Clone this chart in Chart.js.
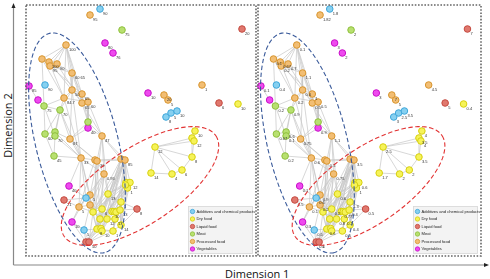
<!DOCTYPE html>
<html><head><meta charset="utf-8">
<script src="https://cdn.jsdelivr.net/npm/chart.js@4"></script>
<style>
html,body{margin:0;padding:0;width:490px;height:279px;overflow:hidden;background:#fff;position:relative}
canvas{position:absolute}
#c1{left:25px;top:4px}
#c2{left:257px;top:4px}
#deco{position:absolute;left:0;top:0}
.t{position:absolute;font-family:"Open Sans",sans-serif;font-size:11px;color:#111;white-space:nowrap;line-height:11px}
#xt{left:225px;top:268px}
#yt{left:-27px;top:120px;transform:rotate(-90deg);transform-origin:50% 50%;width:68px;text-align:center}
</style></head><body>
<svg id="deco" width="490" height="279">
<line x1="13.5" y1="265" x2="13.5" y2="6" stroke="#888" stroke-width="1.2"/>
<polygon points="13.5,3 11.5,8 15.5,8" fill="#222"/>
<line x1="13.5" y1="265" x2="485" y2="265" stroke="#888" stroke-width="1.2"/>
<polygon points="489,265 484,263 484,267" fill="#222"/>
</svg>
<div class="t" id="yt">Dimension 2</div>
<div class="t" id="xt">Dimension 1</div>
<canvas id="c1" width="232" height="253"></canvas>
<canvas id="c2" width="225" height="253"></canvas>
<script>
// ---- data ----
const categories = ["Additives and chemical products","Dry food","Liquid food","Meat","Processed food","Vegetables"];
const catCodes = ["A","D","L","M","P","V"];
const nodeCat = ["P","A","M","V","V","L","P","P","P","P","P","P","V","A","P","P","P","P","P","V",
 "M","M","M","V","M","M","M","P","P","M","P","P","P","P","P","P","V","A","P","L",
 "P","P","V","A","L","L","D","D","D","D","D","D","D","D","D","D","D","D","D","D",
 "D","D","D","D","D","D","L","P","V","P","P","L","D","A","A","A","D","D","D","D",
 "D","D","D","D"];
const nodeX = [90,100,122,105,113,242,66,42,49,50,57,72,29,45,72,82,64,82,88,38,
 44,60,88,88,45,55,55,70,102,54,81,95,97,121,125,104,69,86,90,64,
 79,90,72,84,86,89,126,130,127.5,125.5,108,121,93,102,112,114,116,120,100,107,
 115,97,101,102,113,121,137,202,148,164,168,219,238,166,171,177,195,192,194,155,
 192,182,172,151];
const nodeY = [15,9,30,43,53,29,45,59,62,66,64,73,86,85,90,94,98,103,102,100,
 106,110,122,128,134,132,136,139,136,156,158,160,161,159,160,174,186,198,195,200,
 207,205,222,230,242,242,182.5,182.5,188,185,194,202,212,209,211.5,211.5,212,210,219,219,
 219,229,228.5,231,231,225,209,85,93,95,100,103,104,117,113,111,131,138,141,147,
 157,170,174,173];
const labelsLeft = ["95","90","75","80","76","20","100","","100","95","90","60 65","85","90","50","65","84.7","65","60","",
 "75","70","","40","60","","70","67","47","45","33","","30","","85","0.95","40","","5","21",
 "5","","10","5","","50","","12","1","","13","1","","6","10","","","13","","12",
 "13","8","","10","1","14","8","1","10","20","5","6","10","8","5","10","10","","12","12",
 "8","6","4","14"];
const labelsRight = ["1.82","1.8","2","3","2","7","0.1","0.1","0.67","0.2","0.7","1.1","0.1","0.4","0.6","1","0.2","0.5","0.5","",
 "0.2","0.9","","0.9","0.07","0.6","0.1","0.75","1.1","0.2","0.6","","0.5","","3.5","0.75","0.1","0.6","0.9","0.5",
 "0.1","0.2","0.3","0.5","0.6","1","","0.6","1","","0.6","1.3","","0.2","0.77","","","0.4","","0.8",
 "0.2","0.6","","","0.5","0.4","0.5","4.5","3","7","5","5","0.4","3","2.5","3.5","4","3.5","4","2.5",
 "3.5","2","2","1.7"];
// edges: pairs of node numbers (1-based)
const edges = [
 [7,8],[7,9],[7,10],[7,11],[7,12],[7,15],[7,17],[7,16],[7,18],[8,9],[8,10],[8,11],[9,10],[9,11],[10,11],[8,17],[9,15],[10,12],[11,12],
 [10,16],[11,18],[12,15],[12,16],[12,18],[9,17],[15,16],[15,17],[15,18],[16,18],[16,19],[18,19],[17,19],[8,21],[13,20],[20,21],[21,22],
 [17,22],[17,21],[15,22],[16,23],[18,23],[19,23],[19,24],[22,25],[22,26],[22,27],[21,25],[21,27],[25,26],[26,27],[25,30],[27,30],[26,28],
 [22,28],[23,28],[24,28],[23,29],[19,29],[18,29],[24,29],[28,31],[28,32],[28,33],[31,32],[32,33],[29,33],[29,34],[29,35],[33,35],[32,34],
 [31,36],[33,36],[30,31],[27,31],[17,31],[15,31],[15,28],[31,37],[31,39],[31,38],[37,38],[38,39],[38,41],[38,42],[39,42],[40,41],[41,42],
 [40,38],[41,43],[43,44],[42,44],[44,45],[44,46],[43,45],[45,46],[33,39],[36,42],[36,39],[36,41],[31,41],[32,41],[22,31],[26,31],[43,38],
 [33,53],[33,59],[31,53],[32,62],[36,51],[36,53],[36,59],[36,62],[35,47],[35,48],[35,49],[35,51],[35,52],[35,53],[35,54],[35,58],[35,59],
 [35,60],[35,62],[35,63],[35,65],[34,47],[34,53],[34,62],[34,59],[34,55],[34,64],[29,51],[29,53],[29,36],[42,53],[42,59],[42,62],[41,53],
 [44,62],[45,62],[45,63],[46,64],[46,65],[46,62],[46,53],[45,59],[45,50],
 [47,48],[47,49],[47,50],[48,49],[49,50],[50,51],[47,51],[49,52],[51,52],[51,53],[51,54],[51,55],[52,55],[52,58],[52,61],[53,54],[53,59],
 [53,62],[54,55],[54,59],[54,60],[55,56],[56,57],[57,58],[55,60],[56,61],[58,61],[59,60],[60,61],[59,62],[60,63],[60,64],[61,65],[61,66],
 [62,63],[63,64],[64,65],[65,66],[58,66],[52,66],[47,53],[48,53],[49,59],[50,62],[47,62],[48,62],[49,64],[50,65],[49,66],[48,66],[52,67],
 [58,67],[66,67],[47,55],[48,58],[62,65],[53,60],
 [80,78],[80,79],[80,81],[80,82],[80,83],[80,84],[84,83],[83,82],[82,81],[81,79],[79,78],[78,77],[81,78]
];
// ellipses [cx, cy, semi-major, semi-minor, angle deg]
const blueEllipse = [77,143,113,41,75.9];
const redEllipse = [140,186,91,38,-33.5];

const fills = {A:"#86d0f0",D:"#f6f358",L:"#e0786e",M:"#b8e070",P:"#f2be74",V:"#ee4aee"};
const strokes = {A:"#3ea6da",D:"#d6cf10",L:"#c44a40",M:"#8ebf3c",P:"#d8952e",V:"#c810c8"};

function buildDatasets(){
  const edgeData = [];
  edges.forEach(([a,b])=>{
    edgeData.push({x:nodeX[a-1],y:nodeY[a-1]});
    edgeData.push({x:nodeX[b-1],y:nodeY[b-1]});
    edgeData.push({x:nodeX[b-1],y:NaN});
  });
  const ds = [{data:edgeData,showLine:true,spanGaps:false,pointRadius:0,borderColor:"#c6c6c6",borderWidth:0.7,order:10}];
  catCodes.forEach(c=>{
    const d=[];
    nodeCat.forEach((k,i)=>{ if(k===c) d.push({x:nodeX[i],y:nodeY[i]}); });
    ds.push({data:d,pointRadius:3.3,pointBackgroundColor:fills[c],pointBorderColor:strokes[c],pointBorderWidth:1,showLine:false,order:0});
  });
  return ds;
}

function ellipsePath(ctx,chart,e){
  const [cx,cy,a,b,ang]=e; const th=ang*Math.PI/180;
  const xs=chart.scales.x, ys=chart.scales.y;
  ctx.beginPath();
  for(let i=0;i<=200;i++){
    const t=i/200*2*Math.PI;
    const x=cx+a*Math.cos(th)*Math.cos(t)-b*Math.sin(th)*Math.sin(t);
    const y=cy+a*Math.sin(th)*Math.cos(t)+b*Math.cos(th)*Math.sin(t);
    const px=xs.getPixelForValue(x), py=ys.getPixelForValue(y);
    if(i===0)ctx.moveTo(px,py); else ctx.lineTo(px,py);
  }
  ctx.stroke();
}

function decoPlugin(labels){
  return {id:"deco",
    afterDatasetsDraw(chart){
      const ctx=chart.ctx, ca=chart.chartArea, xs=chart.scales.x, ys=chart.scales.y;
      ctx.save();
      ctx.fillStyle="#333"; ctx.font='4px "Liberation Sans"'; ctx.textBaseline="top";
      labels.forEach((l,i)=>{ if(l) ctx.fillText(l,xs.getPixelForValue(nodeX[i])+3,ys.getPixelForValue(nodeY[i])+3); });
      ctx.setLineDash([4.5,2.5]); ctx.lineWidth=1.1;
      ctx.strokeStyle="#3b5b9b"; ellipsePath(ctx,chart,blueEllipse);
      ctx.strokeStyle="#e23232"; ellipsePath(ctx,chart,redEllipse);
      ctx.setLineDash([]);
      const w=65,h=48,bx=ca.right-4-w,by=ca.bottom-3-h;
      ctx.fillStyle="#f3f3f3"; ctx.fillRect(bx,by,w,h);
      ctx.strokeStyle="#d8d8d8"; ctx.lineWidth=0.8; ctx.strokeRect(bx+0.5,by+0.5,w-1,h-1);
      ctx.font='4.1px "Liberation Sans"'; ctx.textBaseline="middle";
      categories.forEach((c,i)=>{
        const y=by+5.5+i*7.5;
        ctx.beginPath(); ctx.arc(bx+4.5,y,2.2,0,2*Math.PI);
        ctx.fillStyle=fills[catCodes[i]]; ctx.fill();
        ctx.strokeStyle=strokes[catCodes[i]]; ctx.lineWidth=0.8; ctx.stroke();
        ctx.fillStyle="#222"; ctx.fillText(c,bx+8.5,y);
      });
      ctx.setLineDash([1.6,1.6]); ctx.lineWidth=1.6; ctx.strokeStyle="#666";
      ctx.strokeRect(ca.left+1,ca.top+1,ca.right-ca.left-2,ca.bottom-ca.top-2);
      ctx.restore();
    }};
}

function make(id,labels){
  new Chart(document.getElementById(id),{
    type:"scatter",
    data:{datasets:buildDatasets()},
    options:{responsive:false,animation:false,devicePixelRatio:1,events:[],
      layout:{padding:0,autoPadding:false},
      plugins:{legend:{display:false},tooltip:{enabled:false}},
      scales:{x:{type:"linear",min:25,max:257,display:false},
              y:{type:"linear",min:4,max:257,reverse:true,display:false}}},
    plugins:[decoPlugin(labels)]
  });
}
make("c1",labelsLeft);
make("c2",labelsRight);
</script>
</body></html>
